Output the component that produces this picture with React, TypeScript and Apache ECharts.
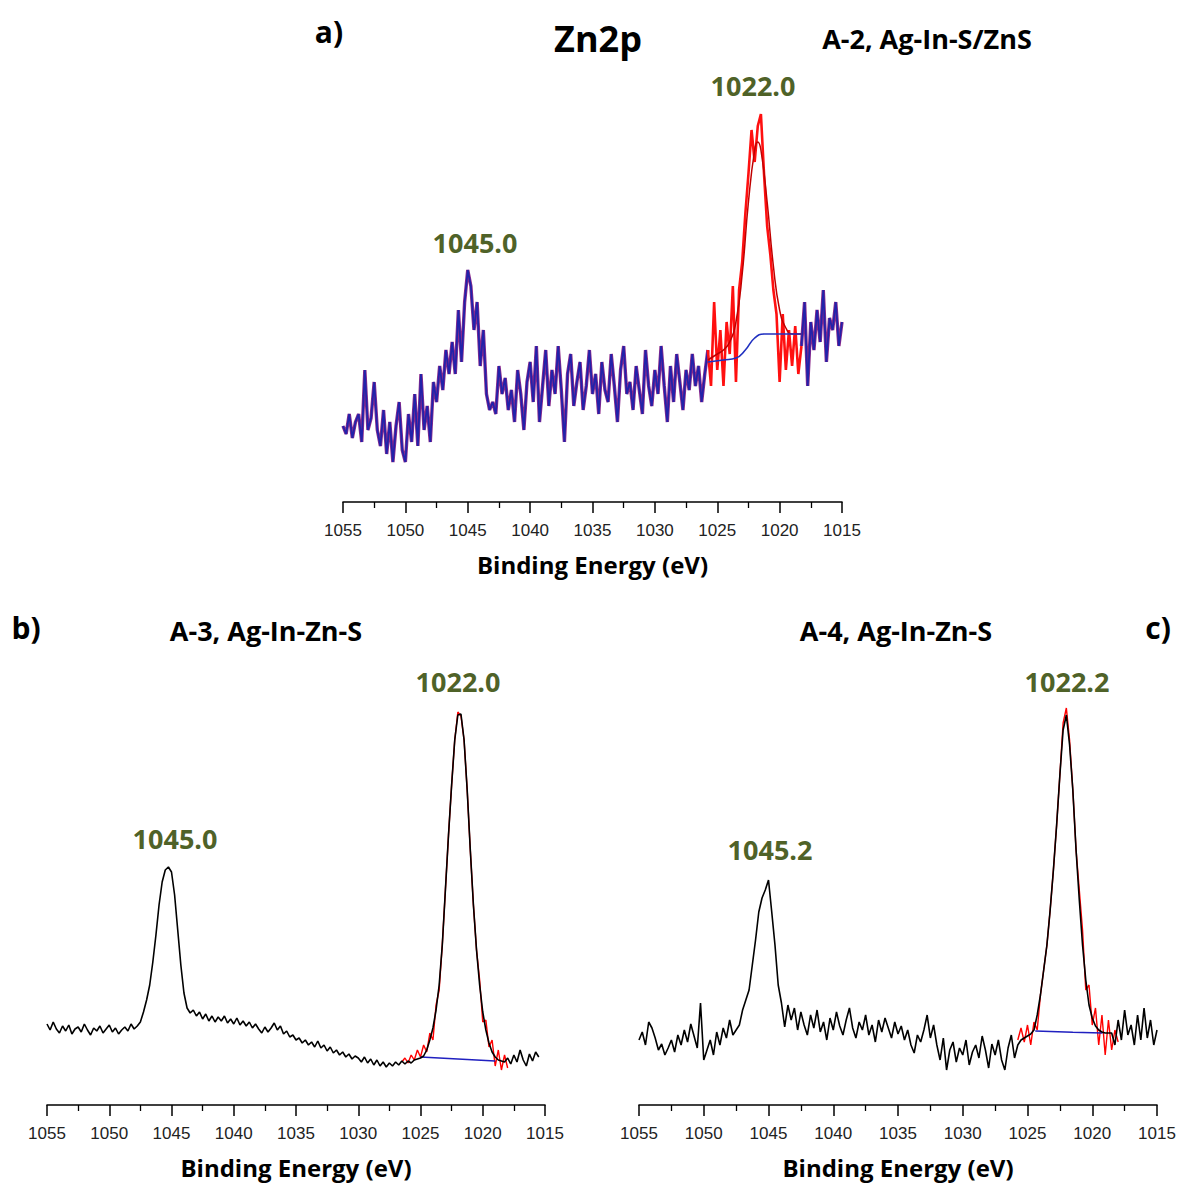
import React, { useEffect, useRef } from "react";
import * as echarts from "echarts";

// ---------- Panel a (A-2, Ag-In-S/ZnS) ----------
const aRawLeft = [
  19, 17, 22, 16, 20, 22, 15, 33, 18, 21,
  30, 18, 14, 23, 12, 20, 10, 19, 25, 13,
  10, 22, 15, 27, 14, 32, 18, 24, 15, 30,
  25, 34, 28, 38, 32, 40, 32, 48, 35, 50,
  58, 54, 43, 50, 34, 43, 27, 23, 25, 22,
  34, 27, 31, 23, 28, 20, 33, 27, 18, 30,
  35, 25, 39, 20, 29, 38, 24, 33, 27, 39,
  28, 15, 32, 37, 24, 30, 35, 23, 29, 38,
  27, 32, 22, 35, 28, 25, 37, 29, 20, 33,
  39, 27, 30, 23, 34, 28, 22, 38, 29, 24,
  33, 27, 39, 29, 20, 34, 25, 37, 30, 23,
  33, 28, 37, 29, 34, 25, 32, 38,
]; // 1055 -> 1025.75
const aRawRed = [
  38, 29, 50, 33, 43, 29, 45, 37, 54, 30,
  53, 60, 72, 82, 93, 85, 94, 97, 82, 69,
  62, 53, 47, 30, 47, 33, 43, 34, 44, 32, 39,
]; // 1025.75 -> 1018.25
const aRawRight = [39, 50, 29, 45, 38, 48, 40, 53, 35, 46, 43, 50, 39, 45]; // 1018.25 -> 1015
const aFit = [
  [1025.75, 35.5], [1025, 37], [1024.5, 38], [1024, 40], [1023.5, 45], [1023, 57],
  [1022.5, 75], [1022, 88], [1021.75, 90], [1021.5, 88], [1021, 75], [1020.5, 59],
  [1020, 48], [1019.5, 43.5], [1019, 42], [1018.25, 42],
];
const aBackground = [
  [1025.75, 35], [1024.5, 35.5], [1023.5, 36], [1022.75, 38], [1022, 41],
  [1021.25, 42], [1020, 42], [1018.25, 42],
];

// ---------- Panel b (A-3, Ag-In-Zn-S) ----------
const bLeft = [
  20.25, 18.75, 20.75, 19, 18, 19.75, 18.5, 20, 17.75, 19,
  19.5, 18.25, 20.25, 18.75, 17.5, 19.25, 18.5, 19.75, 18, 19,
  20, 18.25, 19.25, 17.75, 18.75, 19.5, 18.5, 20.25, 19, 19.75, 20.75,
]; // 1055 -> 1047.5
const bPeak2p1 = [
  23.25, 26.25, 30, 35.75, 42.5, 50, 55.75, 58.75, 59.5, 58.25,
  52.5, 43.75, 35, 28, 24.25, 23, 23.75, 22.25,
]; // 1047.25 -> 1043
const bMid = [
  23.25, 21.5, 22.75, 21, 22.25, 20.75, 22, 21, 22.25, 20.5,
  21.5, 20.25, 21.75, 20, 21, 19.75, 20.75, 19.25, 20.25, 19,
  18, 19.5, 18.25, 19.25, 20.5, 18.75, 19.75, 17.75, 18.5, 17,
  17.5, 16.25, 16.75, 15.5, 16.25, 15, 15.75, 14.5, 16, 14.25,
  15, 13.5, 14.5, 13, 13.75, 12.5, 13.25, 12, 12.75, 11.5,
  12.25, 11.75, 10.75, 12, 10.5, 11.5, 10, 11.25, 9.75, 10.75,
  9.5, 10.5, 9.75, 10.75, 10, 11, 10.25, 11, 10.5, 11.25,
]; // 1042.75 -> 1025.5
const bFit = [
  11.5, 11.75, 12.25, 13.75, 16.25, 19.25, 23.75, 30, 40, 53.75,
  67.5, 80, 91.25, 97.5, 97.75, 91.25, 78.75, 63.75, 50, 38.75,
  30, 23.25, 18.75, 15.5, 13.25, 12, 11.25, 11, 10.75,
]; // 1025.25 -> 1018.25
const bRight = [11.75, 10.25, 12.5, 10.75, 13.75, 11.25, 9.75, 12.75, 11, 13.25, 12]; // 1018 -> 1015.5
const bRawRed = [
  10.75, 11.75, 10.5, 12.5, 11.25, 13.75, 12, 15, 13.25, 18,
  16.25, 25, 28.75, 40, 53.75, 67.5, 80, 91.25, 98.25, 97.25,
  91.25, 78.75, 63.75, 50, 38.75, 31.25, 20.75, 21.25, 14.5, 16.25,
  9.75, 13.75, 8.75, 12.5, 9.25,
]; // 1026.5 -> 1018
const bBackground = [[1025, 12], [1022, 11.5], [1019, 11]];

// ---------- Panel c (A-4, Ag-In-Zn-S) ----------
const cLeft = [
  16.25, 18.25, 15, 20.75, 19.25, 16.75, 13.75, 15.25, 12.5, 14.25,
  16.25, 13.25, 17.5, 15, 18.75, 15.75, 20.25, 17.25, 14.25, 25.5,
  11.25, 13.75, 16.25, 12.5, 18.25, 15, 19.25, 16.75, 21.25, 17.5,
  18.75, 20,
]; // 1055 -> 1047.25
const cPeak2p1 = [
  23.75, 26.25, 28.75, 35, 41.25, 48.25, 51.75, 53.75, 56.25, 48.25,
  40, 30, 25.5, 19.5, 25,
]; // 1047 -> 1043.5
const cMid = [
  21.25, 24.25, 18.75, 23.25, 20, 17.5, 22.5, 19.25, 23.75, 18.25,
  20.75, 16.25, 21.75, 18.75, 23.25, 19.75, 17.5, 21.25, 24.25, 19.25,
  16.75, 20.75, 18.75, 22.5, 17.5, 20, 15.75, 21.25, 18.25, 21.75,
  19.25, 16.75, 20.75, 17.75, 19.75, 16.25, 18.75, 15, 13, 17.5,
  15.75, 18.75, 22.5, 16.75, 20,
]; // 1043.25 -> 1032.25
const cLow = [
  15, 11.25, 16.75, 8.75, 13.75, 15.75, 10.75, 14.25, 12.5, 16.25,
  10, 13.25, 15, 11.75, 17.25, 13.75, 9.25, 15.25, 12.5, 16.25,
  11.25, 8.75, 14.25, 17.5, 11.75, 15, 16.25, 16.75,
]; // 1032 -> 1025.25
const cFit = [
  17.25, 17.75, 18.75, 22.5, 27.5, 33.75, 40, 48.75, 58.75, 70,
  82.5, 93.75, 97.5, 90, 78.75, 63.75, 51.25, 40, 31.25, 25,
  21.75, 19.75, 18.75, 18.25, 18, 18, 18,
]; // 1025 -> 1018.5
const cRight = [15, 21.25, 16.25, 23.75, 17.5, 20, 15, 22.5, 16.25, 24.25, 16.75, 21.25, 15, 18.75]; // 1018.25 -> 1015
const cRawRed = [
  16.25, 19.25, 15.75, 20, 15, 20.75, 18.75, 27.5, 33.75, 40,
  48.75, 58.75, 70, 82.5, 95.5, 99.25, 91.25, 78.75, 63.75, 53.75,
  43.75, 28.75, 30, 20, 24.25, 15, 22.5, 12.5, 21.25, 13.75,
  18.75, 15.75,
]; // 1025.75 -> 1018
const cBackground = [[1024.4, 18.5], [1021.5, 18.2], [1019.2, 18]];

const xTicks = { min: 1015, max: 1055, interval: 5 };

const seg = (start: number, values: number[], step = 0.25) =>
  values.map((v, i) => [Number((start - i * step).toFixed(3)), v]);

const GREEN = "#4F6228";
const TXT = '"Open Sans", "Noto Sans", sans-serif';

export default function App() {
  const ref = useRef<HTMLDivElement>(null);
  useEffect(() => {
    if (!ref.current) return;
    const chart = echarts.init(ref.current, undefined, { renderer: "svg" });

    const xAxis = (gridIndex: number) => ({
      gridIndex,
      type: "value",
      min: xTicks.min,
      max: xTicks.max,
      interval: xTicks.interval,
      inverse: true,
      axisLine: { show: true, onZero: false, lineStyle: { color: "#000", width: 1.6 } },
      axisTick: { show: true, length: 11, lineStyle: { color: "#000", width: 1.5 } },
      minorTick: { show: true, splitNumber: 2, length: 6, lineStyle: { color: "#000", width: 1.3 } },
      splitLine: { show: false },
      minorSplitLine: { show: false },
      axisLabel: {
        color: "#222",
        fontSize: 17,
        fontFamily: '"Liberation Sans", Arial, sans-serif',
        margin: 20,
        formatter: (v: number) => String(v),
      },
      name: "Binding Energy (eV)",
      nameLocation: "middle",
      nameGap: 50,
      nameTextStyle: { fontSize: 24, fontWeight: "bold", fontFamily: TXT, color: "#000" },
    });
    const yAxis = (gridIndex: number) => ({
      gridIndex, type: "value", min: 0, max: 100, show: false,
    });
    const line = (xi: number, data: any[], color: string, width: number, extra: any = {}) => ({
      type: "line",
      xAxisIndex: xi,
      yAxisIndex: xi,
      data,
      showSymbol: false,
      symbol: "none",
      lineStyle: { color, width },
      z: 2,
      ...extra,
    });

    const aLeft = seg(1055, aRawLeft);
    const aRight = seg(1018.25, aRawRight);

    const label = (text: string, x: number, y: number, size: number, color = "#000") => ({
      type: "text",
      x,
      y,
      style: {
        text,
        fill: color,
        font: `bold ${size}px ${TXT}`,
        textAlign: "center",
        textVerticalAlign: "middle",
        align: "center",
        verticalAlign: "middle",
      },
    });

    chart.setOption({
      animation: false,
      backgroundColor: "#fff",
      grid: [
        { left: 343, top: 102, width: 499, height: 400 },
        { left: 47, top: 705, width: 498, height: 400 },
        { left: 639, top: 705, width: 518, height: 400 },
      ],
      xAxis: [xAxis(0), xAxis(1), xAxis(2)],
      yAxis: [yAxis(0), yAxis(1), yAxis(2)],
      series: [
        // panel a
        line(0, aLeft, "#8A2A8C", 3.4),
        line(0, aRight, "#8A2A8C", 3.4),
        line(0, aLeft, "#2222AA", 1.8),
        line(0, aRight, "#2222AA", 1.8),
        line(0, seg(1025.75, aRawRed), "#FF1010", 2.6),
        line(0, aFit, "#C00000", 1.5, { smooth: true }),
        line(0, aBackground, "#2030C0", 1.6, { smooth: true }),
        // panel b
        line(1, seg(1026.5, bRawRed), "#FF0000", 1.4),
        line(1, bBackground, "#2020C0", 1.5, { smooth: true }),
        line(
          1,
          [...seg(1055, bLeft), ...seg(1047.25, bPeak2p1), ...seg(1042.75, bMid), ...seg(1025.25, bFit), ...seg(1018, bRight)],
          "#000",
          1.6
        ),
        // panel c
        line(2, seg(1025.75, cRawRed), "#FF0000", 1.4),
        line(2, cBackground, "#2020C0", 1.5, { smooth: true }),
        line(
          2,
          [...seg(1055, cLeft), ...seg(1047, cPeak2p1), ...seg(1043.25, cMid), ...seg(1032, cLow), ...seg(1025, cFit), ...seg(1018.25, cRight)],
          "#000",
          1.6
        ),
      ],
      graphic: [
        label("a)", 329, 31, 30),
        label("Zn2p", 598, 38, 36),
        label("A-2, Ag-In-S/ZnS", 927, 38, 27),
        label("1022.0", 753, 85, 27, GREEN),
        label("1045.0", 475, 242, 27, GREEN),
        label("b)", 26, 627, 30),
        label("A-3, Ag-In-Zn-S", 266, 630, 27),
        label("1022.0", 458, 681, 27, GREEN),
        label("1045.0", 175, 838, 27, GREEN),
        label("A-4, Ag-In-Zn-S", 896, 630, 27),
        label("c)", 1158, 627, 30),
        label("1022.2", 1067, 681, 27, GREEN),
        label("1045.2", 770, 849, 27, GREEN),
      ],
    });
    return () => chart.dispose();
  }, []);
  return (
    <div
      ref={ref}
      style={{ position: "absolute", left: 0, top: 0, width: 1180, height: 1186 }}
    />
  );
}
